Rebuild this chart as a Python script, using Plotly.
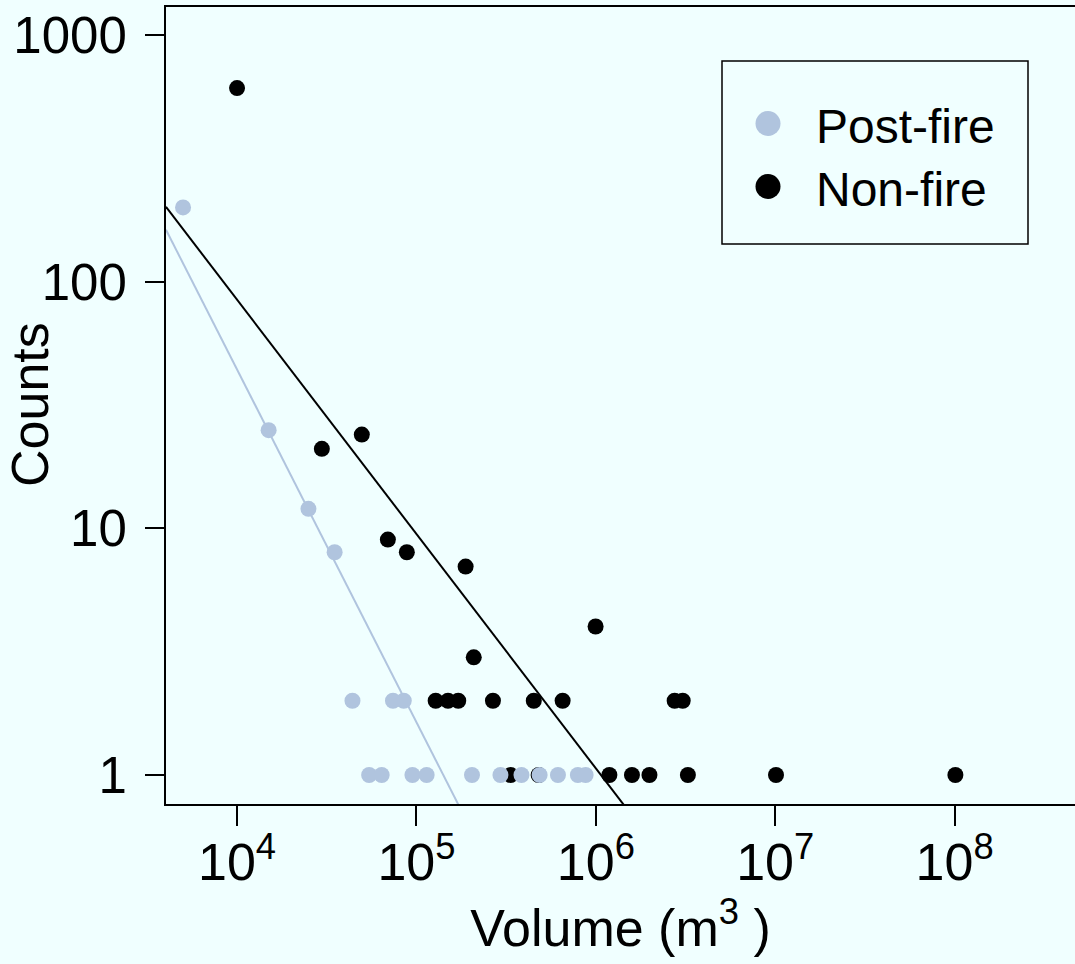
import numpy as np
import plotly.graph_objects as go

# Landslide volume-frequency data (counts per volume bin)
post_fire_volume = [5000, 15000, 25000, 35000,
                    44000, 74000, 85000,
                    54500, 64000, 95000, 114000, 204000, 294000, 385000,
                    486000, 615000, 794000, 877000]
post_fire_counts = [200, 25, 12, 8,
                    2, 2, 2,
                    1, 1, 1, 1, 1, 1, 1,
                    1, 1, 1, 1]

non_fire_volume = [10000, 29700, 49600, 69300, 88400, 188000, 208700, 997000,
                   128000, 150000, 171000, 267000, 451000, 653000, 2750000, 3050000,
                   335000, 480000, 1190000, 1590000, 1990000, 3260000, 10100000, 101000000]
non_fire_counts = [609, 21, 24, 9, 8, 7, 3, 4,
                   2, 2, 2, 2, 2, 2, 2, 2,
                   1, 1, 1, 1, 1, 1, 1, 1]

# Power-law fits: log10(count) = intercept + slope * log10(volume)
post_fire_fit = {"intercept": 7.364, "slope": -1.43}
non_fire_fit = {"intercept": 5.727, "slope": -0.95}

series_names = ["Post-fire", "Non-fire"]
x_tick_vals = [1e4, 1e5, 1e6, 1e7, 1e8]
x_tick_text = ["10<sup>4</sup>", "10<sup>5</sup>", "10<sup>6</sup>",
               "10<sup>7</sup>", "10<sup>8</sup>"]
y_tick_vals = [1, 10, 100, 1000]
y_tick_text = ["1", "10", "100", "1000"]

BG = "#F0FFFF"
POST_COLOR = "#B0C4DE"
NON_COLOR = "#000000"
FONT = "Liberation Sans, Arial, Helvetica, sans-serif"

x_log_range = [3.604, 8.671]
y_log_range = [-0.1176, 3.1135]

W, H = 1075, 964
M_L, M_R, M_T, M_B = 166, 0, 7, 160
PW, PH = W - M_L - M_R, H - M_T - M_B


def px_to_paper(px, py):
    return (px - M_L) / PW, (H - M_B - py) / PH


def fit_line(fit):
    lx = np.array(x_log_range)
    return 10 ** lx, 10 ** (fit["intercept"] + fit["slope"] * lx)


fig = go.Figure()

fx, fy = fit_line(non_fire_fit)
fig.add_trace(go.Scatter(x=fx, y=fy, mode="lines", line=dict(color=NON_COLOR, width=2),
                         showlegend=False, hoverinfo="skip"))
fx, fy = fit_line(post_fire_fit)
fig.add_trace(go.Scatter(x=fx, y=fy, mode="lines", line=dict(color=POST_COLOR, width=2),
                         showlegend=False, hoverinfo="skip"))

fig.add_trace(go.Scatter(x=non_fire_volume, y=non_fire_counts, mode="markers",
                         name=series_names[1], showlegend=False,
                         marker=dict(color=NON_COLOR, size=16, line=dict(width=0))))
fig.add_trace(go.Scatter(x=post_fire_volume, y=post_fire_counts, mode="markers",
                         name=series_names[0], showlegend=False,
                         marker=dict(color=POST_COLOR, size=16, line=dict(width=0))))

# Boxed legend in the upper right
shapes = []
annotations = []
bx0, by0 = px_to_paper(722, 61)
bx1, by1 = px_to_paper(1028, 244)
shapes.append(dict(type="rect", xref="paper", yref="paper", x0=bx0, x1=bx1, y0=by1, y1=by0,
                   line=dict(color="black", width=1.5), fillcolor="rgba(0,0,0,0)"))
for name, color, row_y in zip(series_names, [POST_COLOR, NON_COLOR], [123.5, 186.5]):
    mx, my = px_to_paper(768, row_y)
    shapes.append(dict(type="circle", xref="paper", yref="paper",
                       xsizemode="pixel", ysizemode="pixel", xanchor=mx, yanchor=my,
                       x0=-12.5, x1=12.5, y0=-12.5, y1=12.5,
                       fillcolor=color, line=dict(width=0)))
    tx, ty = px_to_paper(814, row_y + 3)
    annotations.append(dict(xref="paper", yref="paper", x=tx, y=ty, text=name,
                            showarrow=False, xanchor="left", yanchor="middle",
                            font=dict(family=FONT, size=48, color="black")))

# Y axis title
tx, ty = px_to_paper(30, 405)
annotations.append(dict(xref="paper", yref="paper", x=tx, y=ty, text="Counts",
                        showarrow=False, textangle=-90, xanchor="center", yanchor="middle",
                        font=dict(family=FONT, size=52, color="black")))

fig.update_layout(
    width=W, height=H,
    margin=dict(l=M_L, r=M_R, t=M_T, b=M_B, pad=0),
    paper_bgcolor=BG, plot_bgcolor=BG,
    font=dict(family=FONT, color="black"),
    shapes=shapes, annotations=annotations,
    showlegend=False,
)
fig.update_xaxes(
    type="log", range=x_log_range, showgrid=False, zeroline=False,
    showline=True, linecolor="black", linewidth=2, mirror=True,
    ticks="outside", ticklen=20, tickwidth=2, tickcolor="black",
    tickvals=x_tick_vals, ticktext=x_tick_text, ticklabelstandoff=-8,
    tickfont=dict(family=FONT, size=52, color="black"),
    title=dict(text="Volume (m<sup>3</sup> )", font=dict(family=FONT, size=52, color="black"),
               standoff=6),
)
fig.update_yaxes(
    type="log", range=y_log_range, showgrid=False, zeroline=False,
    showline=True, linecolor="black", linewidth=2, mirror=False,
    ticks="outside", ticklen=19, tickwidth=2, tickcolor="black",
    tickvals=y_tick_vals, ticktext=y_tick_text, ticklabelstandoff=8,
    tickfont=dict(family=FONT, size=51, color="black"),
)

fig.write_html("out.html")
